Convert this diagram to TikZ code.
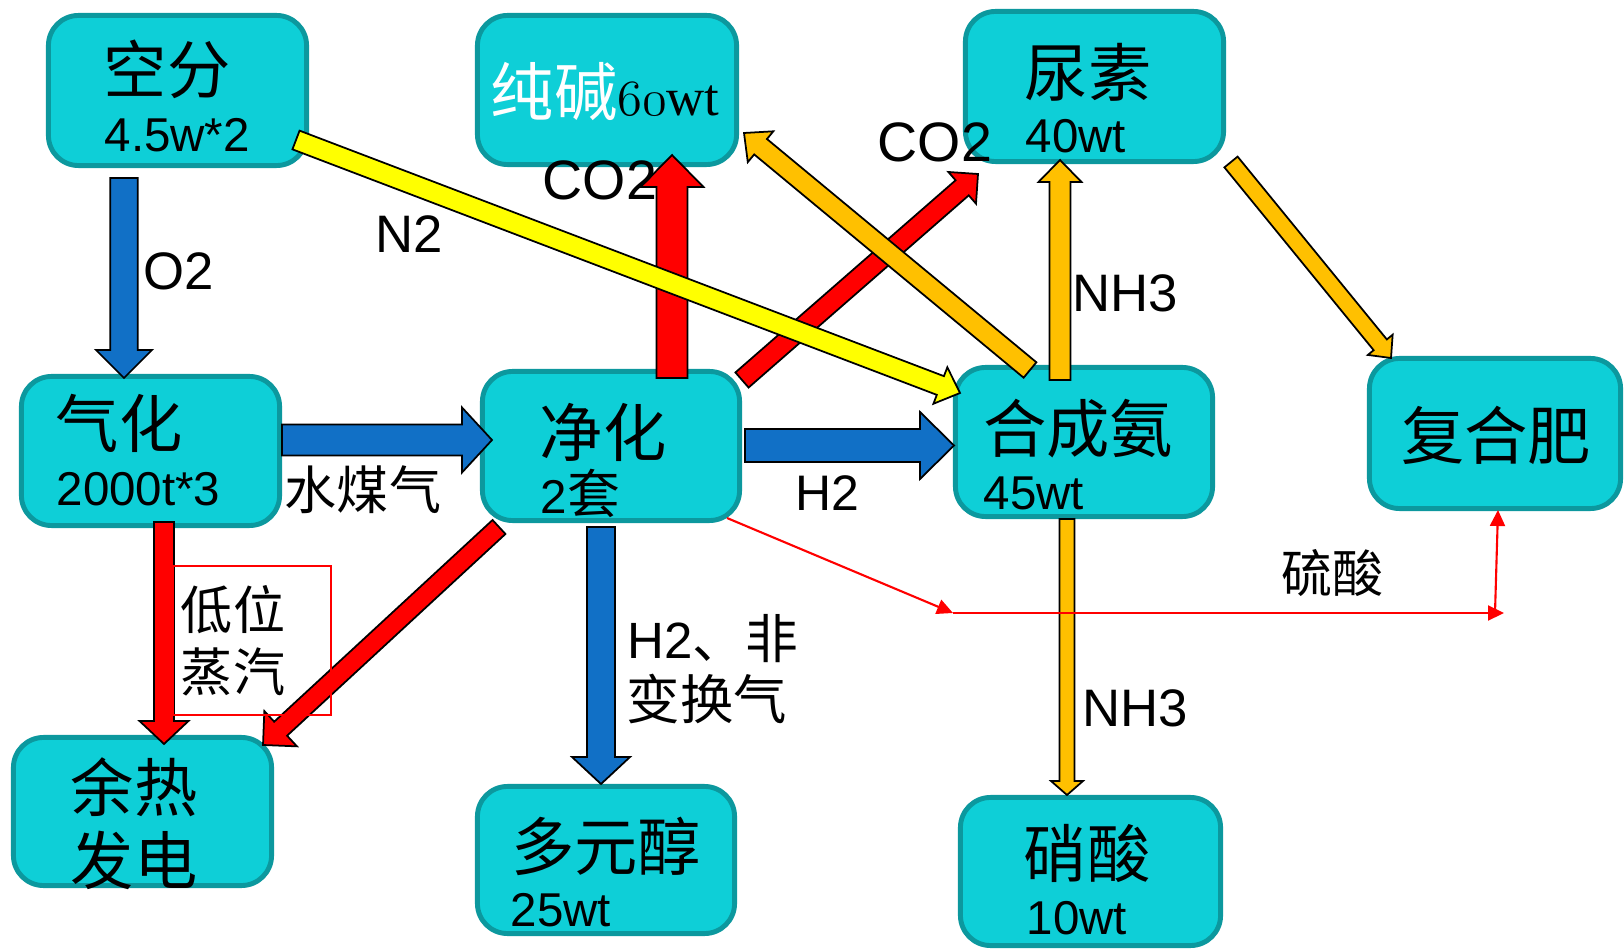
\documentclass[tikz,border=0pt]{standalone}
\usepackage{fontspec}
\setmainfont{Liberation Sans}
\newfontfamily\cjk{Noto Sans CJK SC}
\newfontfamily\serifwt{Liberation Serif}
\usetikzlibrary{calc,arrows.meta}

\definecolor{boxfill}{RGB}{14,207,215}
\definecolor{boxline}{RGB}{12,152,158}
\definecolor{flowblue}{RGB}{17,112,198}
\definecolor{flowred}{RGB}{255,0,0}
\definecolor{flowyellow}{RGB}{255,255,0}
\definecolor{floworange}{RGB}{255,192,0}

% block arrow: #1 tail, #2 tip, #3 half shaft width, #4 half head width, #5 head length, #6 fill
\newcommand\fatarrow[6]{%
  \coordinate (fa-base) at ($(#2)!#5!(#1)$);
  \filldraw[arrowedge, fill=#6]
    ($(#1)!#3!90:(#2)$) -- ($(fa-base)!#3!90:(#2)$) -- ($(fa-base)!#4!90:(#2)$)
    -- (#2)
    -- ($(fa-base)!#4!-90:(#2)$) -- ($(fa-base)!#3!-90:(#2)$) -- ($(#1)!#3!-90:(#2)$) -- cycle;
}

\tikzset{
  procbox/.style={draw=boxline, fill=boxfill, line width=1.4pt, rounded corners=0.3cm,
                  inner sep=0pt, outer sep=0pt},
  arrowedge/.style={draw=black, line width=0.5pt, line join=miter},
  zhbig/.style={font=\cjk\fontsize{18}{20}\selectfont, inner sep=0pt},
  zhmid/.style={font=\cjk\fontsize{14.8}{17}\selectfont, inner sep=0pt},
  amount/.style={font=\fontsize{13.5}{15}\selectfont, inner sep=0pt, anchor=base west},
  gas/.style={font=\fontsize{15}{17}\selectfont, inner sep=0pt, anchor=base west},
  thinflow/.style={draw=flowred, line width=0.6pt, -{Triangle[length=0.16cm,width=0.15cm]}},
}

\begin{document}
\begin{tikzpicture}[x=0.01cm, y=-0.01cm]
\useasboundingbox (0,0) rectangle (1624,949);

% ---- process units ----
\node[procbox, minimum width=2.58cm, minimum height=1.50cm] (kongfen)  at (177.5,90.5) {};
\node[procbox, minimum width=2.59cm, minimum height=1.49cm] (chunjian) at (607,90) {};
\node[procbox, minimum width=2.58cm, minimum height=1.50cm] (niaosu)   at (1094.5,86.5) {};
\node[procbox, minimum width=2.58cm, minimum height=1.49cm] (qihua)    at (150.5,451) {};
\node[procbox, minimum width=2.57cm, minimum height=1.49cm] (jinghua)  at (611,446) {};
\node[procbox, minimum width=2.57cm, minimum height=1.49cm] (hecheng)  at (1084,442) {};
\node[procbox, minimum width=2.51cm, minimum height=1.50cm] (fuhefei)  at (1495,433.5) {};
\node[procbox, minimum width=2.58cm, minimum height=1.48cm] (yure)     at (142.5,811.5) {};
\node[procbox, minimum width=2.57cm, minimum height=1.47cm] (duoyuan)  at (606,860) {};
\node[procbox, minimum width=2.60cm, minimum height=1.48cm] (xiaosuan) at (1090.5,871.5) {};

% ---- arrow end points ----
\coordinate (o2-a) at (124,178);    \coordinate (o2-b) at (124,378);
\coordinate (sg-a) at (282,440);    \coordinate (sg-b) at (492,440);
\coordinate (h2-a) at (745,445.5);  \coordinate (h2-b) at (954,445.5);
\coordinate (pol-a) at (601,527);   \coordinate (pol-b) at (601,784);
\coordinate (st-a) at (164,522);    \coordinate (st-b) at (164,744);
\coordinate (ht-a) at (499,527);    \coordinate (ht-b) at (263,745);
\coordinate (cu-a) at (742,380);    \coordinate (cu-b) at (978,174);
\coordinate (cs-a) at (672,378);    \coordinate (cs-b) at (672,155);
\coordinate (as-a) at (1030,370);   \coordinate (as-b) at (744,133);
\coordinate (au-a) at (1060,380);   \coordinate (au-b) at (1060,160);
\coordinate (uf-a) at (1231,162);   \coordinate (uf-b) at (1391,358);
\coordinate (an-a) at (1067,519);   \coordinate (an-b) at (1067,795);
\coordinate (n2-a) at (296,140);    \coordinate (n2-b) at (960,393);
\coordinate (sa-a) at (727,518);    \coordinate (sa-b) at (953,613);
\coordinate (sa-c) at (1504,613);   \coordinate (sa-d) at (1495,613);
\coordinate (sa-e) at (1498,510);

% ---- flows ----
\fatarrow{o2-a}{o2-b}{0.1375cm}{0.28cm}{0.28cm}{flowblue}
\fatarrow{sg-a}{sg-b}{0.155cm}{0.325cm}{0.30cm}{flowblue}
\fatarrow{h2-a}{h2-b}{0.165cm}{0.335cm}{0.34cm}{flowblue}
\fatarrow{pol-a}{pol-b}{0.14cm}{0.29cm}{0.27cm}{flowblue}
\fatarrow{st-a}{st-b}{0.10cm}{0.245cm}{0.23cm}{flowred}
\fatarrow{ht-a}{ht-b}{0.095cm}{0.24cm}{0.24cm}{flowred}
\fatarrow{cu-a}{cu-b}{0.10cm}{0.21cm}{0.21cm}{flowred}
\fatarrow{cs-a}{cs-b}{0.155cm}{0.315cm}{0.32cm}{flowred}
\fatarrow{as-a}{as-b}{0.10cm}{0.20cm}{0.215cm}{floworange}
\fatarrow{au-a}{au-b}{0.105cm}{0.215cm}{0.22cm}{floworange}
\fatarrow{uf-a}{uf-b}{0.085cm}{0.16cm}{0.17cm}{floworange}
\fatarrow{an-a}{an-b}{0.075cm}{0.16cm}{0.14cm}{floworange}
\fatarrow{n2-a}{n2-b}{0.10cm}{0.195cm}{0.21cm}{flowyellow}

% sulphuric acid line
\draw[thinflow] (sa-a) -- (sa-b);
\draw[thinflow] (sa-b) -- (sa-c);
\draw[thinflow] (sa-d) -- (sa-e);

% frame round the steam label
\draw[flowred, line width=0.5pt] (173,566) rectangle (331,715);

% ---- texts in the units ----
\node[zhbig] (t-kongfen) at (167,69) {空分};
\node[amount] (n-kongfen) at (104,152) {4.5w*2};
\node[inner sep=0pt, anchor=base west] (t-chunjian) at (490,116)
  {{\cjk\fontsize{18}{20}\selectfont\color{white}纯碱}{\fontsize{14.4}{16}\usefont{OML}{cmm}{m}{it}60}{\serifwt\fontsize{15}{17}\selectfont wt}};
\node[zhbig] (t-niaosu) at (1088,72) {尿素};
\node[amount] (n-niaosu) at (1025,153) {40wt};
\node[zhbig] (t-qihua) at (119,423) {气化};
\node[amount] (n-qihua) at (56,505) {2000t*3};
\node[zhbig] (t-jinghua) at (603,432) {净化};
\node[amount] (n-jinghua) at (540,514) {2{\cjk\fontsize{15}{17}\selectfont 套}};
\node[zhbig] (t-hecheng) at (1078,429) {合成氨};
\node[amount] (n-hecheng) at (983,509) {45wt};
\node[zhbig] (t-fuhefei) at (1496,435) {复合肥};
\node[zhbig] (t-yure1) at (134,787) {余热};
\node[zhbig] (t-yure2) at (134,860) {发电};
\node[zhbig] (t-duoyuan) at (606,846) {多元醇};
\node[amount] (n-duoyuan) at (510,926) {25wt};
\node[zhbig] (t-xiaosuan) at (1087,853) {硝酸};
\node[amount] (n-xiaosuan) at (1026,934) {10wt};

% ---- flow labels ----
\node[gas] (l-o2) at (143,290) {O2};
\node[gas] (l-n2) at (375,253) {N2};
\node[gas, font=\fontsize{15.8}{17}\selectfont] (l-co2a) at (542,200) {CO2};
\node[gas, font=\fontsize{15.8}{17}\selectfont] (l-co2b) at (877,162) {CO2};
\node[gas] (l-nh3a) at (1072,312) {NH3};
\node[gas] (l-nh3b) at (1082,726) {NH3};
\node[gas, font=\fontsize{14.2}{16}\selectfont] (l-h2) at (795,511) {H2};
\node[zhmid] (l-syngas) at (363,490) {水煤气};
\node[zhmid] (l-steam1) at (233,610) {低位};
\node[zhmid] (l-steam2) at (233,672) {蒸汽};
\node[gas, font=\fontsize{14.5}{16}\selectfont] (l-pol1) at (627,658) {H2{\cjk\fontsize{15}{17}\selectfont 、非}};
\node[zhmid, anchor=west, font=\cjk\fontsize{15.2}{17}\selectfont] (l-pol2) at (626,699) {变换气};
\node[zhmid, font=\cjk\fontsize{14.5}{16}\selectfont] (l-acid) at (1332,573) {硫酸};
\end{tikzpicture}
\end{document}
